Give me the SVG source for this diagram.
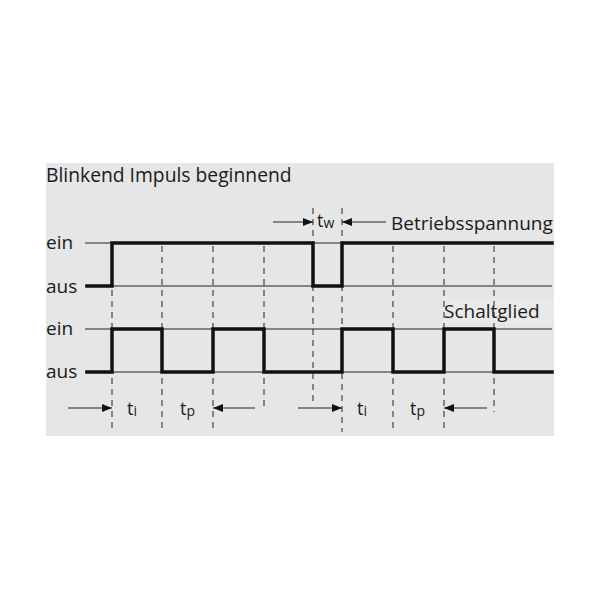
<svg xmlns="http://www.w3.org/2000/svg" width="600" height="600" viewBox="0 0 600 600">
<defs>
<style>
.t{font-family:"Open Sans","Noto Sans",sans-serif;fill:#1a1a1a;}
.thin{stroke:#222;stroke-width:1;fill:none}
.thick{stroke:#111;stroke-width:3.5;fill:none;stroke-linejoin:miter;stroke-linecap:square}
.dash{stroke:#222;stroke-width:1;stroke-dasharray:6 5;fill:none}
.arr{stroke:#222;stroke-width:1;fill:none}
</style>
<marker id="ah" viewBox="0 0 10 8" refX="10" refY="4" markerWidth="10" markerHeight="8" markerUnits="userSpaceOnUse" orient="auto">
<path d="M0,0 L10,4 L0,8 Z" fill="#111"/>
</marker>
</defs>
<rect x="0" y="0" width="600" height="600" fill="#ffffff"/>
<rect x="46" y="163" width="508" height="273" fill="#e6e6e6"/>
<rect x="443" y="298" width="111" height="26" fill="#e9e9e9"/>
<g id="labels">
<text class="t" x="46" y="182" font-size="19.3">Blinkend Impuls beginnend</text>
<text class="t" x="46" y="249" font-size="19">ein</text>
<text class="t" x="46" y="293" font-size="19">aus</text>
<text class="t" x="46" y="335" font-size="19">ein</text>
<text class="t" x="46" y="378" font-size="19">aus</text>
<text class="t" x="391" y="230" font-size="19">Betriebsspannung</text>
<text class="t" x="444" y="318" font-size="19">Schaltglied</text>
<text class="t" x="317" y="227" font-size="18">t<tspan font-size="14" dy="1">w</tspan></text>
<text class="t" x="127" y="415" font-size="18">t<tspan font-size="14" dy="1">i</tspan></text>
<text class="t" x="180" y="415" font-size="18">t<tspan font-size="14" dy="1">p</tspan></text>
<text class="t" x="357" y="415" font-size="18">t<tspan font-size="14" dy="1">i</tspan></text>
<text class="t" x="410" y="415" font-size="18">t<tspan font-size="14" dy="1">p</tspan></text>
</g>
<g id="gridlines">
<line class="thin" x1="85" y1="243" x2="552" y2="243"/>
<line class="thin" x1="85" y1="286" x2="552" y2="286"/>
<line class="thin" x1="85" y1="329" x2="552" y2="329"/>
<line class="thin" x1="85" y1="372" x2="552" y2="372"/>
<line class="dash" x1="112" y1="290" x2="112" y2="432"/>
<line class="dash" x1="162" y1="246" x2="162" y2="432"/>
<line class="dash" x1="213" y1="246" x2="213" y2="432"/>
<line class="dash" x1="264" y1="246" x2="264" y2="410"/>
<line class="dash" x1="313" y1="208" x2="313" y2="402"/>
<line class="dash" x1="342" y1="208" x2="342" y2="432"/>
<line class="dash" x1="393" y1="246" x2="393" y2="432"/>
<line class="dash" x1="444" y1="246" x2="444" y2="432"/>
<line class="dash" x1="494" y1="246" x2="494" y2="412"/>
</g>
<g id="signal-betriebsspannung">
<polyline class="thick" points="87,286 112,286 112,243 313,243 313,286 342,286 342,243 552,243"/>
</g>
<g id="signal-schaltglied">
<polyline class="thick" points="87,372 112,372 112,329 162,329 162,372 213,372 213,329 264,329 264,372 342,372 342,329 393,329 393,372 444,372 444,329 494,329 494,372 552,372"/>
</g>
<g id="connectors">
<line class="arr" x1="273" y1="222" x2="313" y2="222" marker-end="url(#ah)"/>
<line class="arr" x1="386" y1="222" x2="342" y2="222" marker-end="url(#ah)"/>
<line class="arr" x1="68" y1="408" x2="112" y2="408" marker-end="url(#ah)"/>
<line class="arr" x1="255" y1="408" x2="213" y2="408" marker-end="url(#ah)"/>
<line class="arr" x1="298" y1="408" x2="342" y2="408" marker-end="url(#ah)"/>
<line class="arr" x1="487" y1="408" x2="444" y2="408" marker-end="url(#ah)"/>
</g>
</svg>
